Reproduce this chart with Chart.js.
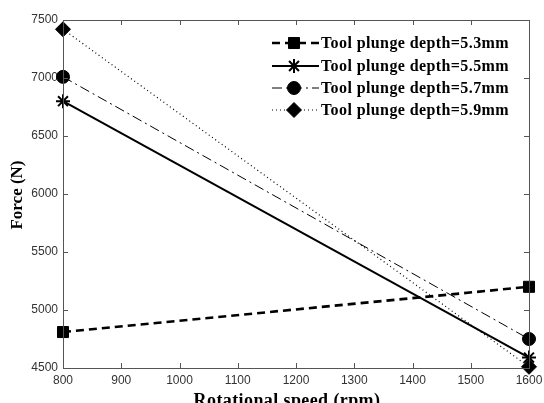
<!DOCTYPE html>
<html>
<head>
<meta charset="utf-8">
<script src="https://cdn.jsdelivr.net/npm/chart.js@4.4.1/dist/chart.umd.min.js"></script>
<style>
  html, body { margin: 0; padding: 0; background: #fff; overflow: hidden; }
  #wrap { width: 544px; height: 403px; position: relative; }
</style>
</head>
<body>
<div id="wrap"><canvas id="chart"></canvas></div>
<script>
// Data
const speeds = [800, 1600];
const depth53 = [4810, 5200];
const depth55 = [6800, 4590];
const depth57 = [7010, 4750];
const depth59 = [7420, 4510];
const seriesLabels = [
    'Tool plunge depth=5.3mm',
    'Tool plunge depth=5.5mm',
    'Tool plunge depth=5.7mm',
    'Tool plunge depth=5.9mm'
];
const xTicks = [800, 900, 1000, 1100, 1200, 1300, 1400, 1500, 1600];
const yTicks = [4500, 5000, 5500, 6000, 6500, 7000, 7500];

function toPoints(vals) {
    return speeds.map((s, i) => ({ x: s, y: vals[i] }));
}

const styles = [
    { dash: [8, 5], width: 2.6, point: 'rect', radius: 7.8 },
    { dash: [], width: 2, point: 'star', radius: 7 },
    { dash: [10, 4, 2, 4], width: 1, point: 'circle', radius: 6.5 },
    { dash: [1, 3], width: 1.2, point: 'rectRot', radius: 7.5 }
];
const allValues = [depth53, depth55, depth57, depth59];

const datasets = allValues.map((vals, i) => ({
    label: seriesLabels[i],
    data: toPoints(vals),
    borderColor: '#000',
    backgroundColor: '#000',
    borderWidth: styles[i].width,
    borderDash: styles[i].dash,
    pointStyle: styles[i].point,
    pointRadius: styles[i].radius,
    pointBorderWidth: styles[i].point === 'star' ? 2 : 1,
    pointBackgroundColor: '#000',
    pointBorderColor: '#000',
    tension: 0,
    clip: false
}));

const serif = '"Liberation Serif", "Times New Roman", serif';

// Frame, inward ticks, axis titles and in-plot legend
const framePlugin = {
    id: 'frame',
    afterDatasetsDraw(chart) {
        const ctx = chart.ctx;
        const a = chart.chartArea;
        const xs = chart.scales.x, ys = chart.scales.y;
        ctx.save();
        ctx.strokeStyle = '#555';
        ctx.lineWidth = 1;
        ctx.setLineDash([]);
        ctx.strokeRect(Math.round(a.left) + 0.5, Math.round(a.top) + 0.5,
            Math.round(a.right - a.left), Math.round(a.bottom - a.top));
        ctx.beginPath();
        xTicks.forEach(v => {
            const px = Math.round(xs.getPixelForValue(v)) + 0.5;
            ctx.moveTo(px, a.bottom); ctx.lineTo(px, a.bottom - 5);
            ctx.moveTo(px, a.top); ctx.lineTo(px, a.top + 5);
        });
        yTicks.forEach(v => {
            const py = Math.round(ys.getPixelForValue(v)) + 0.5;
            ctx.moveTo(a.left, py); ctx.lineTo(a.left + 5, py);
            ctx.moveTo(a.right, py); ctx.lineTo(a.right - 5, py);
        });
        ctx.stroke();

        // axis titles
        ctx.fillStyle = '#000';
        ctx.textAlign = 'center';
        ctx.textBaseline = 'middle';
        ctx.font = 'bold 18px ' + serif;
        ctx.letterSpacing = '0.4px';
        ctx.fillText('Rotational speed (rpm)', 287, 401);
        ctx.save();
        ctx.translate(18, 195);
        ctx.rotate(-Math.PI / 2);
        ctx.font = 'bold 17px ' + serif;
        ctx.letterSpacing = '0px';
        ctx.fillText('Force (N)', 0, 0);
        ctx.restore();

        // legend
        const rowY = [43, 66, 88, 110];
        const x0 = 272, x1 = 319, mx = 294;
        ctx.textAlign = 'left';
        ctx.font = 'bold 16px ' + serif;
        ctx.letterSpacing = '0.4px';
        chart.data.datasets.forEach((ds, i) => {
            const y = rowY[i];
            ctx.save();
            ctx.strokeStyle = '#000';
            ctx.lineWidth = ds.borderWidth;
            ctx.setLineDash(ds.borderDash);
            ctx.beginPath();
            ctx.moveTo(x0, y); ctx.lineTo(x1, y);
            ctx.stroke();
            ctx.setLineDash([]);
            ctx.fillStyle = '#000';
            ctx.lineWidth = ds.pointBorderWidth;
            Chart.helpers.drawPoint(ctx, {
                pointStyle: ds.pointStyle,
                radius: ds.pointRadius,
                rotation: 0,
                borderWidth: ds.pointBorderWidth
            }, mx, y);
            ctx.restore();
            ctx.fillText(ds.label, x1 + 2, y + 1);
        });
        ctx.restore();
    }
};

const tickFont = { family: '"Liberation Sans", Arial, sans-serif', size: 12 };

new Chart(document.getElementById('chart'), {
    type: 'line',
    data: { datasets: datasets },
    options: {
        responsive: true,
        maintainAspectRatio: false,
        animation: false,
        layout: { padding: { top: 20, right: 15, left: 0, bottom: 0 } },
        plugins: {
            legend: { display: false },
            tooltip: { enabled: false }
        },
        scales: {
            x: {
                type: 'linear',
                min: 800,
                max: 1600,
                afterBuildTicks: s => { s.ticks = xTicks.map(v => ({ value: v })); },
                afterFit: s => { s.height = 35; s.paddingLeft = 0; s.paddingRight = 0; },
                grid: { display: false, drawTicks: false },
                border: { display: false },
                ticks: {
                    color: '#333',
                    padding: 5,
                    maxRotation: 0,
                    font: tickFont,
                    callback: v => String(v)
                }
            },
            y: {
                min: 4500,
                max: 7500,
                afterBuildTicks: s => { s.ticks = yTicks.map(v => ({ value: v })); },
                afterFit: s => { s.width = 63; s.paddingTop = 0; s.paddingBottom = 0; },
                grid: { display: false, drawTicks: false },
                border: { display: false },
                ticks: {
                    color: '#333',
                    padding: 5,
                    font: tickFont,
                    callback: v => String(v)
                }
            }
        }
    },
    plugins: [framePlugin]
});
</script>
</body>
</html>
